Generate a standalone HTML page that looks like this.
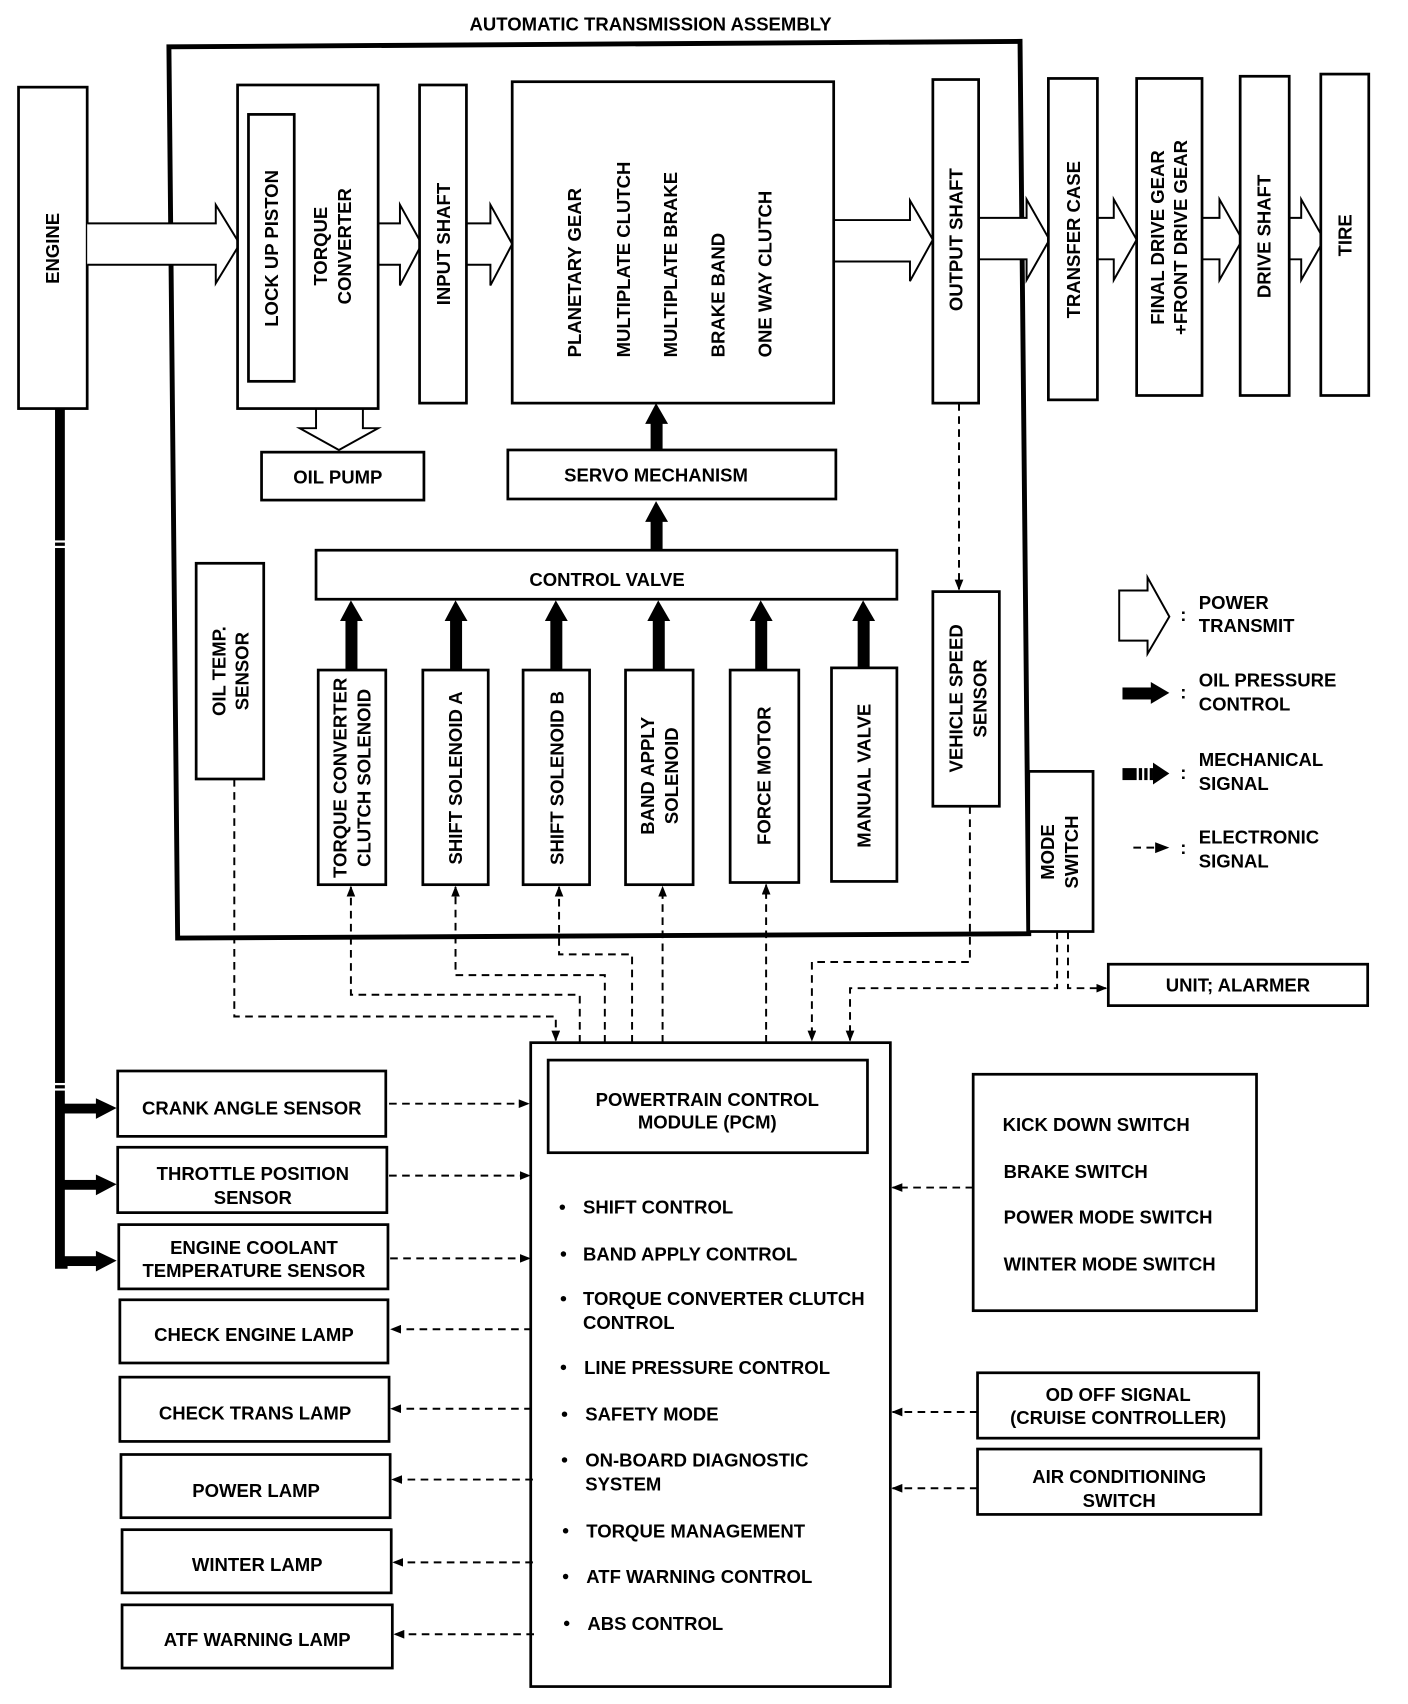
<!DOCTYPE html>
<html><head><meta charset="utf-8"><style>
html,body{margin:0;padding:0;background:#fff;}
svg{display:block}
text{font-family:"Liberation Sans",sans-serif;font-weight:bold;font-size:17px;fill:#000}
.b{fill:#fff;stroke:#000;stroke-width:2.5}
.d{stroke:#000;stroke-width:1.8;fill:none;stroke-dasharray:7,5}
.p{fill:#fff;stroke:#000;stroke-width:1.8}
</style></head><body>
<svg width="1408" height="1704" viewBox="0 0 1292 1564" preserveAspectRatio="none" xmlns="http://www.w3.org/2000/svg">
<defs>
<marker id="ah" markerWidth="10" markerHeight="8" refX="9" refY="4" orient="auto" markerUnits="userSpaceOnUse"><path d="M0,0 L10,4 L0,8 z" fill="#000"/></marker>
</defs>
<text x="597" y="28" text-anchor="middle" font-size="16.5">AUTOMATIC TRANSMISSION ASSEMBLY</text>
<polygon points="155,43 936,38 944,857 163,861" fill="none" stroke="#000" stroke-width="4.5"/>
<rect class="b" x="17" y="80" width="63" height="295"/>
<text transform="translate(54,228) rotate(-90)" text-anchor="middle">ENGINE</text>
<path d="M55,375 L55,1160 L62,1160" stroke="#000" stroke-width="9" fill="none"/>
<rect x="50" y="496" width="10" height="2" fill="#fff"/><rect x="50" y="501" width="10" height="2" fill="#fff"/>
<rect x="50" y="994" width="10" height="2" fill="#fff"/><rect x="50" y="999" width="10" height="2" fill="#fff"/>
<g fill="#000">
<rect x="55" y="1013" width="36" height="9"/><polygon points="88,1008 107,1017 88,1027"/>
<rect x="55" y="1083" width="36" height="9"/><polygon points="88,1078 107,1087 88,1097"/>
<rect x="55" y="1153" width="36" height="9"/><polygon points="88,1148 107,1157 88,1167"/>
</g>
<path class="p" d="M80,205 L198,205 L198,188 L220,224 L198,260 L198,243 L80,243"/>
<path class="p" d="M347,205 L367,205 L367,188 L387,224 L367,262 L367,243 L347,243"/>
<path class="p" d="M428,205 L450,205 L450,188 L470,224 L450,262 L450,243 L428,243"/>
<path class="p" d="M765,202 L835,202 L835,184 L856,220 L835,258 L835,240 L765,240"/>
<path class="p" d="M898,200 L942,200 L942,183 L963,220 L942,257 L942,238 L898,238"/>
<path class="p" d="M1007,200 L1022,200 L1022,183 L1043,220 L1022,257 L1022,238 L1007,238"/>
<path class="p" d="M1103,200 L1119,200 L1119,183 L1140,220 L1119,257 L1119,238 L1103,238"/>
<path class="p" d="M1183,200 L1194,200 L1194,183 L1215,220 L1194,257 L1194,238 L1183,238"/>
<path class="p" d="M290,375 L290,393 L275,393 L311,413 L347,393 L333,393 L333,375"/>
<rect class="b" x="218" y="78" width="129" height="297"/>
<rect class="b" x="228" y="105" width="42" height="245"/>
<text transform="translate(255,228) rotate(-90)" text-anchor="middle">LOCK UP PISTON</text>
<text transform="translate(300,226) rotate(-90)" text-anchor="middle">TORQUE</text>
<text transform="translate(322,226) rotate(-90)" text-anchor="middle">CONVERTER</text>
<rect class="b" x="385" y="78" width="43" height="292"/>
<text transform="translate(413,224) rotate(-90)" text-anchor="middle">INPUT SHAFT</text>
<rect class="b" x="470" y="75" width="295" height="295"/>
<text transform="translate(533,328) rotate(-90)">PLANETARY GEAR</text>
<text transform="translate(578,328) rotate(-90)">MULTIPLATE CLUTCH</text>
<text transform="translate(621,328) rotate(-90)">MULTIPLATE BRAKE</text>
<text transform="translate(665,328) rotate(-90)">BRAKE BAND</text>
<text transform="translate(708,328) rotate(-90)">ONE WAY CLUTCH</text>
<rect class="b" x="856" y="73" width="42" height="297"/>
<text transform="translate(883,220) rotate(-90)" text-anchor="middle">OUTPUT SHAFT</text>
<rect class="b" x="962" y="72" width="45" height="295"/>
<text transform="translate(991,220) rotate(-90)" text-anchor="middle">TRANSFER CASE</text>
<rect class="b" x="1043" y="72" width="60" height="291"/>
<text transform="translate(1068,218) rotate(-90)" text-anchor="middle">FINAL DRIVE GEAR</text>
<text transform="translate(1089,218) rotate(-90)" text-anchor="middle">+FRONT DRIVE GEAR</text>
<rect class="b" x="1138" y="70" width="45" height="293"/>
<text transform="translate(1166,217) rotate(-90)" text-anchor="middle">DRIVE SHAFT</text>
<rect class="b" x="1212" y="68" width="44" height="295"/>
<text transform="translate(1240,216) rotate(-90)" text-anchor="middle">TIRE</text>
<rect class="b" x="240" y="415" width="149" height="44"/>
<text x="310" y="444" text-anchor="middle">OIL PUMP</text>
<rect class="b" x="466" y="413" width="301" height="45"/>
<text x="602" y="442" text-anchor="middle">SERVO MECHANISM</text>
<rect class="b" x="290" y="505" width="533" height="45"/>
<text x="557" y="538" text-anchor="middle">CONTROL VALVE</text>
<g fill="#000">
<rect x="597" y="388" width="11" height="25"/><polygon points="592,389 602,370 613,389"/>
<rect x="597" y="478" width="11" height="27"/><polygon points="592,479 602,460 613,479"/>
</g>
<rect class="b" x="180" y="517" width="62" height="198"/>
<text transform="translate(207,616) rotate(-90)" text-anchor="middle">OIL TEMP.</text>
<text transform="translate(228,616) rotate(-90)" text-anchor="middle">SENSOR</text>
<g fill="#000">
<rect x="317" y="568" width="11" height="47"/><polygon points="312,570 322,551 333,570"/>
<rect x="413" y="568" width="11" height="47"/><polygon points="408,570 418,551 429,570"/>
<rect x="505" y="568" width="11" height="47"/><polygon points="500,570 510,551 521,570"/>
<rect x="599" y="568" width="11" height="47"/><polygon points="594,570 604,551 615,570"/>
<rect x="693" y="568" width="11" height="47"/><polygon points="688,570 698,551 709,570"/>
<rect x="787" y="568" width="11" height="47"/><polygon points="782,570 792,551 803,570"/>
</g>
<rect class="b" x="292" y="615" width="62" height="197"/>
<text transform="translate(318,714) rotate(-90)" text-anchor="middle">TORQUE CONVERTER</text>
<text transform="translate(340,714) rotate(-90)" text-anchor="middle">CLUTCH SOLENOID</text>
<rect class="b" x="388" y="615" width="60" height="197"/>
<text transform="translate(424,714) rotate(-90)" text-anchor="middle">SHIFT SOLENOID A</text>
<rect class="b" x="480" y="615" width="61" height="197"/>
<text transform="translate(517,714) rotate(-90)" text-anchor="middle">SHIFT SOLENOID B</text>
<rect class="b" x="574" y="615" width="62" height="197"/>
<text transform="translate(600,712) rotate(-90)" text-anchor="middle">BAND APPLY</text>
<text transform="translate(622,712) rotate(-90)" text-anchor="middle">SOLENOID</text>
<rect class="b" x="670" y="615" width="63" height="195"/>
<text transform="translate(707,712) rotate(-90)" text-anchor="middle">FORCE MOTOR</text>
<rect class="b" x="763" y="613" width="60" height="196"/>
<text transform="translate(799,712) rotate(-90)" text-anchor="middle">MANUAL VALVE</text>
<rect class="b" x="856" y="543" width="61" height="197"/>
<text transform="translate(883,641) rotate(-90)" text-anchor="middle">VEHICLE SPEED</text>
<text transform="translate(905,641) rotate(-90)" text-anchor="middle">SENSOR</text>
<rect class="b" x="944" y="708" width="59" height="147"/>
<text transform="translate(967,782) rotate(-90)" text-anchor="middle">MODE</text>
<text transform="translate(989,782) rotate(-90)" text-anchor="middle">SWITCH</text>
<path class="p" d="M1027,542 L1053,542 L1053,530 L1073,566 L1053,600 L1053,588 L1027,588 z"/>
<text x="1083" y="570">:</text>
<text x="1100" y="559">POWER</text><text x="1100" y="580">TRANSMIT</text>
<rect x="1030" y="631" width="28" height="11" fill="#000"/><polygon points="1056,626 1073,636 1056,646" fill="#000"/>
<text x="1083" y="641">:</text>
<text x="1100" y="630">OIL PRESSURE</text><text x="1100" y="652">CONTROL</text>
<g fill="#000"><rect x="1030" y="705" width="13" height="11"/><rect x="1045" y="705" width="3" height="11"/><rect x="1050" y="705" width="3" height="11"/><rect x="1055" y="705" width="3" height="11"/><polygon points="1058,700 1073,710 1058,720"/></g>
<text x="1083" y="715">:</text>
<text x="1100" y="703">MECHANICAL</text><text x="1100" y="725">SIGNAL</text>
<line x1="1040" y1="778" x2="1062" y2="778" class="d" stroke-dasharray="6,4"/><polygon points="1060,773 1073,778 1060,783" fill="#000"/>
<text x="1083" y="784">:</text>
<text x="1100" y="774">ELECTRONIC</text><text x="1100" y="796">SIGNAL</text>
<path class="d" d="M880,370 L880,541" marker-end="url(#ah)"/>
<path class="d" d="M215,715 L215,933 L510,933 L510,955" marker-end="url(#ah)"/>
<path class="d" d="M532,957 L532,913 L322,913 L322,814" marker-end="url(#ah)"/>
<path class="d" d="M555,957 L555,895 L418,895 L418,814" marker-end="url(#ah)"/>
<path class="d" d="M580,957 L580,876 L513,876 L513,814" marker-end="url(#ah)"/>
<path class="d" d="M608,957 L608,814" marker-end="url(#ah)"/>
<path class="d" d="M703,957 L703,812" marker-end="url(#ah)"/>
<path class="d" d="M890,740 L890,883 L745,883 L745,955" marker-end="url(#ah)"/>
<path class="d" d="M970,855 L970,907 L780,907 L780,955" marker-end="url(#ah)"/>
<path class="d" d="M980,855 L980,907 L1015,907" marker-end="url(#ah)"/>
<rect class="b" x="1017" y="885" width="238" height="38"/>
<text x="1136" y="910" text-anchor="middle">UNIT; ALARMER</text>
<rect class="b" x="487" y="957" width="330" height="591"/>
<rect class="b" x="503" y="973" width="293" height="85"/>
<text x="649" y="1015" text-anchor="middle">POWERTRAIN CONTROL</text>
<text x="649" y="1036" text-anchor="middle">MODULE (PCM)</text>
<g>
<circle cx="516" cy="1108" r="2.5"/><text x="535" y="1114">SHIFT CONTROL</text>
<circle cx="517" cy="1151" r="2.5"/><text x="535" y="1157">BAND APPLY CONTROL</text>
<circle cx="517" cy="1192" r="2.5"/><text x="535" y="1198">TORQUE CONVERTER CLUTCH</text><text x="535" y="1220">CONTROL</text>
<circle cx="517" cy="1255" r="2.5"/><text x="536" y="1261">LINE PRESSURE CONTROL</text>
<circle cx="518" cy="1298" r="2.5"/><text x="537" y="1304">SAFETY MODE</text>
<circle cx="518" cy="1340" r="2.5"/><text x="537" y="1346">ON-BOARD DIAGNOSTIC</text><text x="537" y="1368">SYSTEM</text>
<circle cx="519" cy="1405" r="2.5"/><text x="538" y="1411">TORQUE MANAGEMENT</text>
<circle cx="519" cy="1447" r="2.5"/><text x="538" y="1453">ATF WARNING CONTROL</text>
<circle cx="520" cy="1490" r="2.5"/><text x="539" y="1496">ABS CONTROL</text>
</g>
<rect class="b" x="108" y="983" width="246" height="60"/><text x="231" y="1023" text-anchor="middle">CRANK ANGLE SENSOR</text>
<rect class="b" x="108" y="1053" width="247" height="60"/><text x="232" y="1083" text-anchor="middle">THROTTLE POSITION</text><text x="232" y="1105" text-anchor="middle">SENSOR</text>
<rect class="b" x="109" y="1124" width="247" height="59"/><text x="233" y="1151" text-anchor="middle">ENGINE COOLANT</text><text x="233" y="1172" text-anchor="middle">TEMPERATURE SENSOR</text>
<rect class="b" x="110" y="1193" width="246" height="58"/><text x="233" y="1231" text-anchor="middle">CHECK ENGINE LAMP</text>
<rect class="b" x="110" y="1264" width="247" height="59"/><text x="234" y="1303" text-anchor="middle">CHECK TRANS LAMP</text>
<rect class="b" x="111" y="1335" width="247" height="58"/><text x="235" y="1374" text-anchor="middle">POWER LAMP</text>
<rect class="b" x="112" y="1404" width="247" height="58"/><text x="236" y="1442" text-anchor="middle">WINTER LAMP</text>
<rect class="b" x="112" y="1473" width="248" height="58"/><text x="236" y="1511" text-anchor="middle">ATF WARNING LAMP</text>
<path class="d" d="M357,1013 L485,1013" marker-end="url(#ah)"/>
<path class="d" d="M357,1079 L486,1079" marker-end="url(#ah)"/>
<path class="d" d="M358,1155 L486,1155" marker-end="url(#ah)"/>
<path class="d" d="M488,1220 L359,1220" marker-end="url(#ah)"/>
<path class="d" d="M488,1293 L359,1293" marker-end="url(#ah)"/>
<path class="d" d="M489,1358 L360,1358" marker-end="url(#ah)"/>
<path class="d" d="M489,1434 L361,1434" marker-end="url(#ah)"/>
<path class="d" d="M490,1500 L362,1500" marker-end="url(#ah)"/>
<rect class="b" x="893" y="986" width="260" height="217"/>
<text x="920" y="1038">KICK DOWN SWITCH</text>
<text x="921" y="1081">BRAKE SWITCH</text>
<text x="921" y="1123">POWER MODE SWITCH</text>
<text x="921" y="1166">WINTER MODE SWITCH</text>
<path class="d" d="M893,1090 L819,1090" marker-end="url(#ah)"/>
<rect class="b" x="897" y="1260" width="258" height="60"/>
<text x="1026" y="1286" text-anchor="middle">OD OFF SIGNAL</text><text x="1026" y="1307" text-anchor="middle">(CRUISE CONTROLLER)</text>
<path class="d" d="M897,1296 L819,1296" marker-end="url(#ah)"/>
<rect class="b" x="897" y="1330" width="260" height="60"/>
<text x="1027" y="1361" text-anchor="middle">AIR CONDITIONING</text><text x="1027" y="1383" text-anchor="middle">SWITCH</text>
<path class="d" d="M897,1366 L819,1366" marker-end="url(#ah)"/>
</svg>
</body></html>
